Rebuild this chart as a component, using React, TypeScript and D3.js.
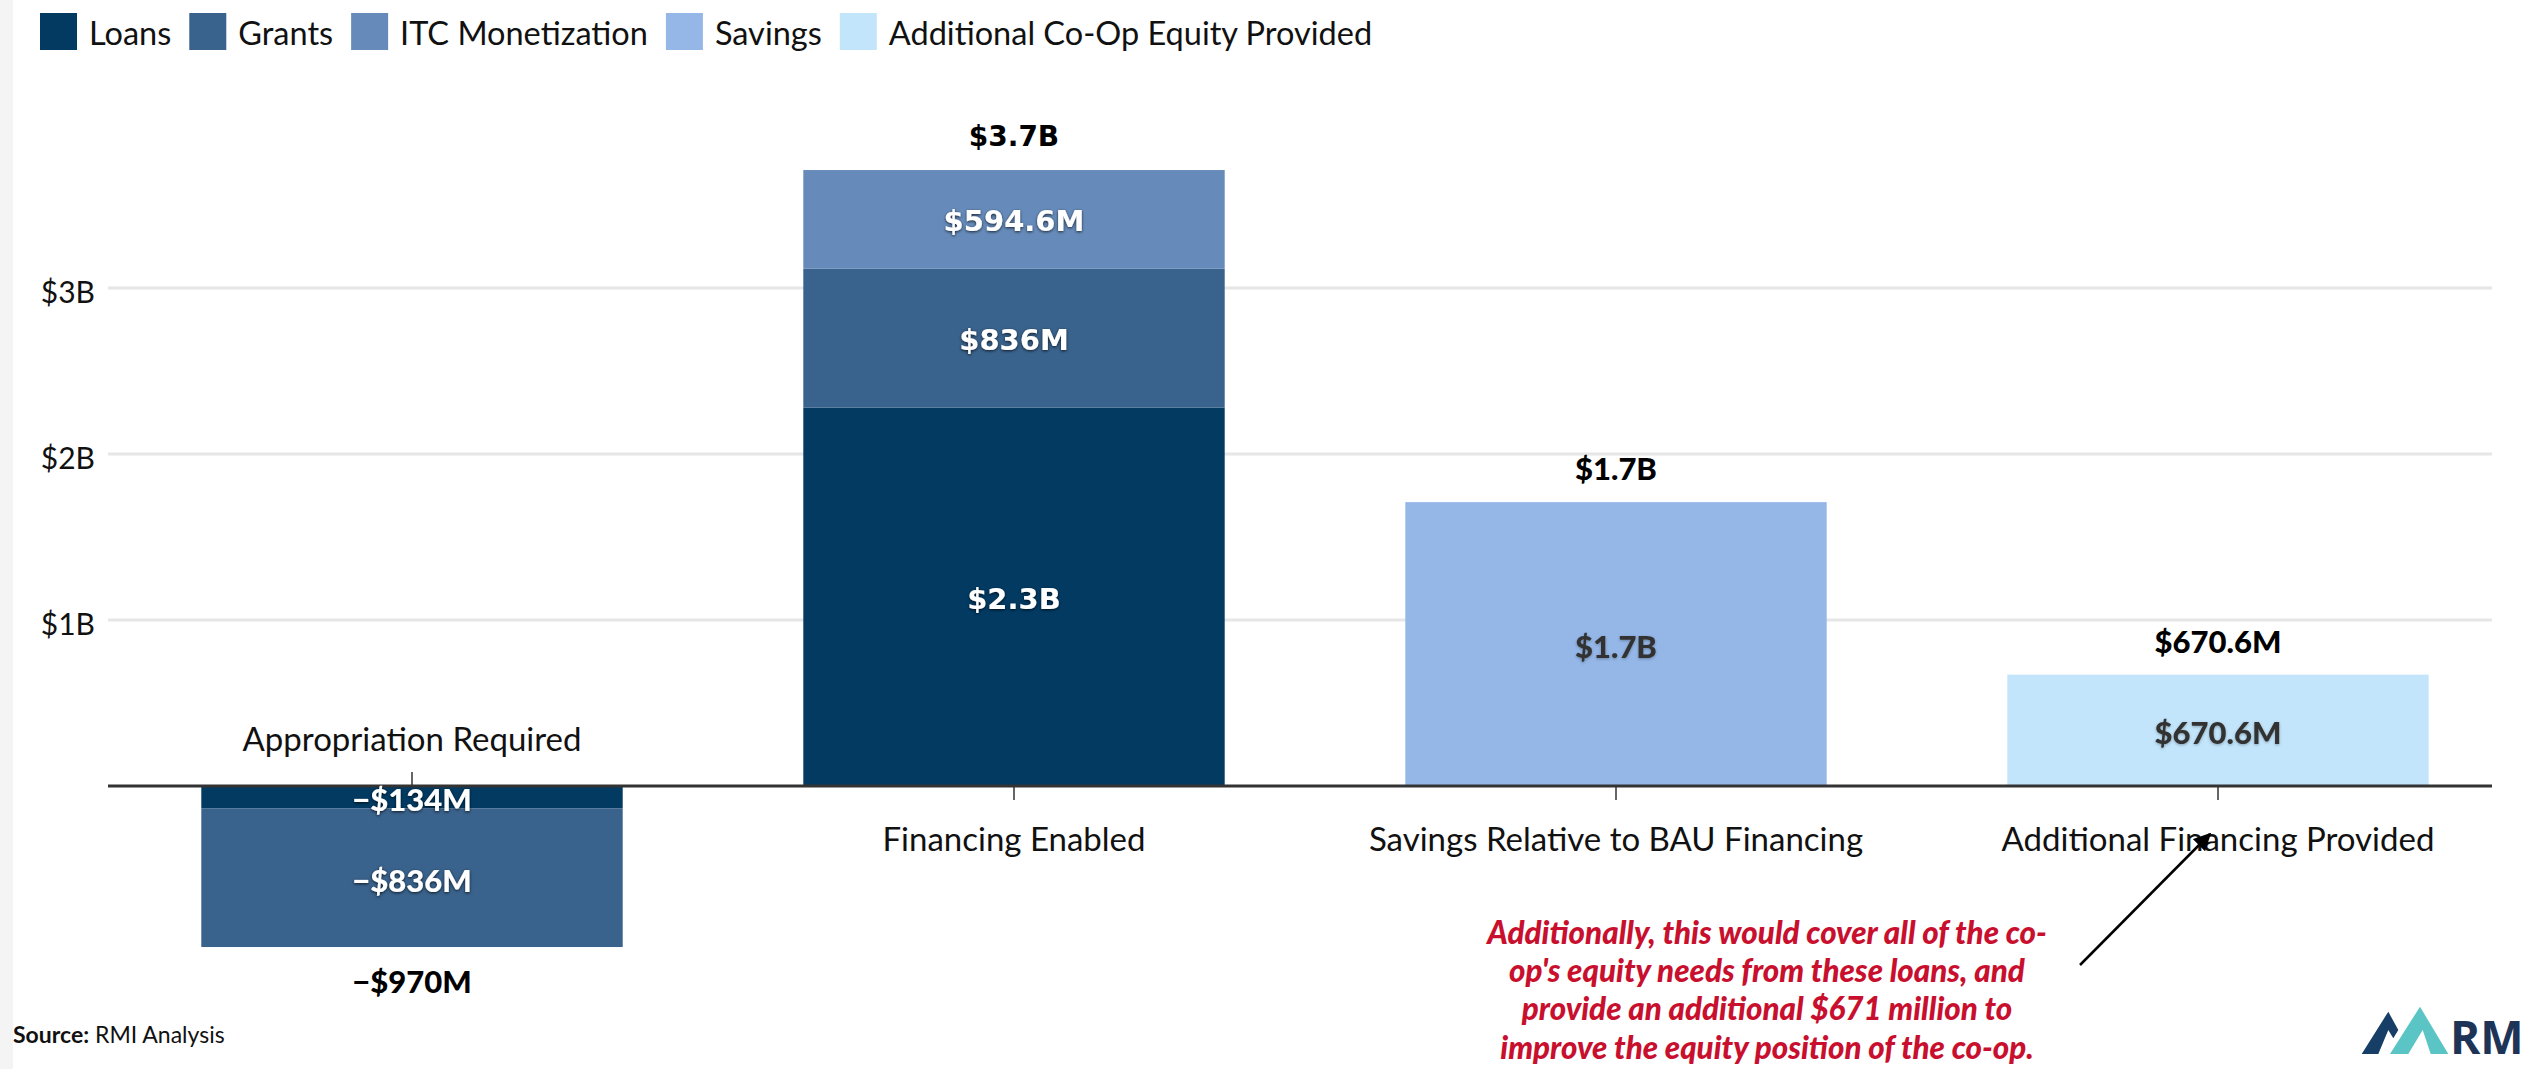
import React, { useMemo } from "react";
import * as d3 from "d3";

// ---------- data ----------
const categories = [
  "Appropriation Required",
  "Financing Enabled",
  "Savings Relative to BAU Financing",
  "Additional Financing Provided",
];
const seriesNames = ["Loans", "Grants", "ITC Monetization", "Savings", "Additional Co-Op Equity Provided"];
const seriesColors = ["#023a62", "#39628c", "#668bba", "#94b7e8", "#c2e5fc"];
// values in $ millions
const loans = [-134, 2280, 0, 0];
const grants = [-836, 836, 0, 0];
const itcMonetization = [0, 594.6, 0, 0];
const savings = [0, 0, 1710, 0];
const additionalEquity = [0, 0, 0, 670.6];
const yTicks = [1000, 2000, 3000];
const annotationLines = [
  "Additionally, this would cover all of the co-",
  "op's equity needs from these loans, and",
  "provide an additional $671 million to",
  "improve the equity position of the co-op.",
];
const sourceLabel = "Source:";
const sourceText = " RMI Analysis";

// ---------- helpers ----------
const W = 2534;
const H = 1069;
const FONT = "Lato, 'Open Sans', sans-serif";

function fmt(v: number): string {
  const a = Math.abs(v);
  const sign = v < 0 ? "\u2212" : "";
  if (a >= 1000) return `${sign}$${(a / 1000).toFixed(1)}B`;
  return `${sign}$${+a.toFixed(1)}M`;
}
function fmtTick(v: number): string {
  return `$${v / 1000}B`;
}

let _ctx: CanvasRenderingContext2D | null = null;
function measure(text: string, font: string): number {
  if (!_ctx) _ctx = document.createElement("canvas").getContext("2d");
  if (!_ctx) return text.length * 15;
  _ctx.font = font;
  return _ctx.measureText(text).width;
}

export default function App() {
  const seriesValues = [loans, grants, itcMonetization, savings, additionalEquity];
  const rows = categories.map((c, i) => {
    const r: any = { category: c };
    seriesNames.forEach((s, j) => (r[s] = seriesValues[j][i]));
    return r;
  });

  const stacked = d3.stack<any>().keys(seriesNames).offset(d3.stackOffsetDiverging)(rows);

  const x = d3.scaleBand<string>().domain(categories).range([111, 2519]).paddingInner(0.3).paddingOuter(0.15);
  const y = d3.scaleLinear().domain([0, 3000]).range([786, 288]);
  const y0 = y(0);
  const plotLeft = 108;
  const plotRight = 2492;

  const totals = categories.map((_, i) => seriesValues.reduce((s, arr) => s + arr[i], 0));

  const legendFont = 32.5;
  const legendItems = useMemo(() => {
    let cx = 40;
    return seriesNames.map((name, i) => {
      const item = { name, color: seriesColors[i], x: cx };
      const w = measure(name, `${legendFont}px ${FONT}`);
      cx += 37 + 12 + w + 18;
      return item;
    });
  }, []);

  const annCx = 1767;

  return (
    <svg
      width={W}
      height={H}
      style={{ position: "absolute", left: 0, top: 0, background: "#fff" }}
      fontFamily={FONT}
    >
      <defs>
        <filter id="shDark" x="-20%" y="-40%" width="140%" height="180%">
          <feDropShadow dx="0" dy="1" stdDeviation="1.6" floodColor="#000" floodOpacity="0.75" />
        </filter>
        <filter id="shSoft" x="-20%" y="-40%" width="140%" height="180%">
          <feDropShadow dx="0" dy="1" stdDeviation="1.4" floodColor="#000" floodOpacity="0.3" />
        </filter>
        <marker id="arrowHead" viewBox="0 0 10 10" refX="9" refY="5" markerWidth="7" markerHeight="7" orient="auto">
          <path d="M0,0 L10,5 L0,10 z" fill="#000" />
        </marker>
      </defs>

      <rect x={0} y={0} width={W} height={H} fill="#fff" />
      <rect x={0} y={0} width={13} height={H} fill="#f4f4f4" />

      {/* legend */}
      {legendItems.map((it) => (
        <g key={it.name}>
          <rect x={it.x} y={13} width={37} height={37} fill={it.color} />
          <text x={it.x + 49} y={32} fontSize={legendFont} dominantBaseline="central" fill="#111">
            {it.name}
          </text>
        </g>
      ))}

      {/* gridlines */}
      {yTicks.map((t) => (
        <g key={t}>
          <line x1={plotLeft} x2={plotRight} y1={y(t)} y2={y(t)} stroke="#e6e6e6" strokeWidth={3} />
          <text x={95} y={y(t) + 3} fontSize={30} textAnchor="end" dominantBaseline="central" fill="#111">
            {fmtTick(t)}
          </text>
        </g>
      ))}

      {/* bars */}
      {stacked.map((layer, si) =>
        layer.map((d, ci) => {
          const v = seriesValues[si][ci];
          if (!v) return null;
          const top = y(Math.max(d[0], d[1]));
          const bot = y(Math.min(d[0], d[1]));
          return (
            <rect
              key={`${si}-${ci}`}
              x={x(categories[ci])}
              y={top}
              width={x.bandwidth()}
              height={bot - top}
              fill={seriesColors[si]}
            />
          );
        })
      )}

      {/* axis */}
      <line x1={plotLeft} x2={plotRight} y1={y0} y2={y0} stroke="#333" strokeWidth={3} />
      {categories.map((c, i) => {
        const cx = (x(c) as number) + x.bandwidth() / 2;
        const neg = totals[i] < 0;
        return (
          <g key={c}>
            <line x1={cx} x2={cx} y1={y0} y2={neg ? y0 - 14 : y0 + 14} stroke="#333" strokeWidth={1.5} />
            <text
              x={cx}
              y={neg ? y0 - 48 : y0 + 52}
              fontSize={33}
              textAnchor="middle"
              dominantBaseline="central"
              fill="#111"
            >
              {c}
            </text>
          </g>
        );
      })}

      {/* segment labels */}
      {stacked.map((layer, si) =>
        layer.map((d, ci) => {
          const v = seriesValues[si][ci];
          if (!v) return null;
          const cx = (x(categories[ci]) as number) + x.bandwidth() / 2;
          const cy = (y(d[0]) + y(d[1])) / 2;
          const light = si >= 3;
          const wide = ci === 1;
          return (
            <text
              key={`l-${si}-${ci}`}
              x={cx}
              y={cy + 2}
              fontSize={wide ? 29 : 31}
              fontFamily={wide ? "'DejaVu Sans', sans-serif" : FONT}
              fontWeight={900}
              textAnchor="middle"
              dominantBaseline="central"
              fill={light ? "#333" : "#fff"}
              filter={light ? "url(#shSoft)" : "url(#shDark)"}
            >
              {fmt(v)}
            </text>
          );
        })
      )}

      {/* total labels */}
      {categories.map((c, i) => {
        const cx = (x(c) as number) + x.bandwidth() / 2;
        const t = totals[i];
        const wide = i === 1;
        return (
          <text
            key={`t-${c}`}
            x={cx}
            y={t < 0 ? y(t) + 34 : y(t) - 34}
            fontSize={wide ? 28 : 31}
            fontFamily={wide ? "'DejaVu Sans', sans-serif" : FONT}
            fontWeight={900}
            textAnchor="middle"
            dominantBaseline="central"
            fill="#000"
          >
            {fmt(t)}
          </text>
        );
      })}

      {/* annotation */}
      <line x1={2080} y1={965} x2={2210} y2={834} stroke="#000" strokeWidth={2.5} markerEnd="url(#arrowHead)" />
      <g transform={`translate(${annCx},0) scale(0.95,1)`}>
        {annotationLines.map((l, i) => (
          <text
            key={i}
            x={0}
            y={931 + i * 38.3}
            fontSize={33}
            fontWeight={900}
            fontStyle="italic"
            textAnchor="middle"
            dominantBaseline="central"
            fill="#c8102e"
          >
            {l}
          </text>
        ))}
      </g>

      {/* source */}
      <text x={13} y={1034} fontSize={23} dominantBaseline="central" fill="#111">
        <tspan fontWeight="bold">{sourceLabel}</tspan>
        <tspan>{sourceText}</tspan>
      </text>

      {/* logo */}
      <g>
        <path d="M2361.7,1054 L2388.3,1011.7 L2398.3,1030 L2393.3,1038.3 L2388.3,1030 L2378.3,1054 Z" fill="#163e66" />
        <path
          d="M2390,1054 L2420,1006.7 L2448.3,1054 Z M2408.3,1054 L2422.7,1030 L2430.7,1054 Z"
          fill="#5bc5c5"
          fillRule="evenodd"
        />
        <text x={2450} y={1054} fontSize={46} fontWeight="bold" fontFamily="'Open Sans', sans-serif" fill="#1e3457">
          RM
        </text>
      </g>
    </svg>
  );
}
